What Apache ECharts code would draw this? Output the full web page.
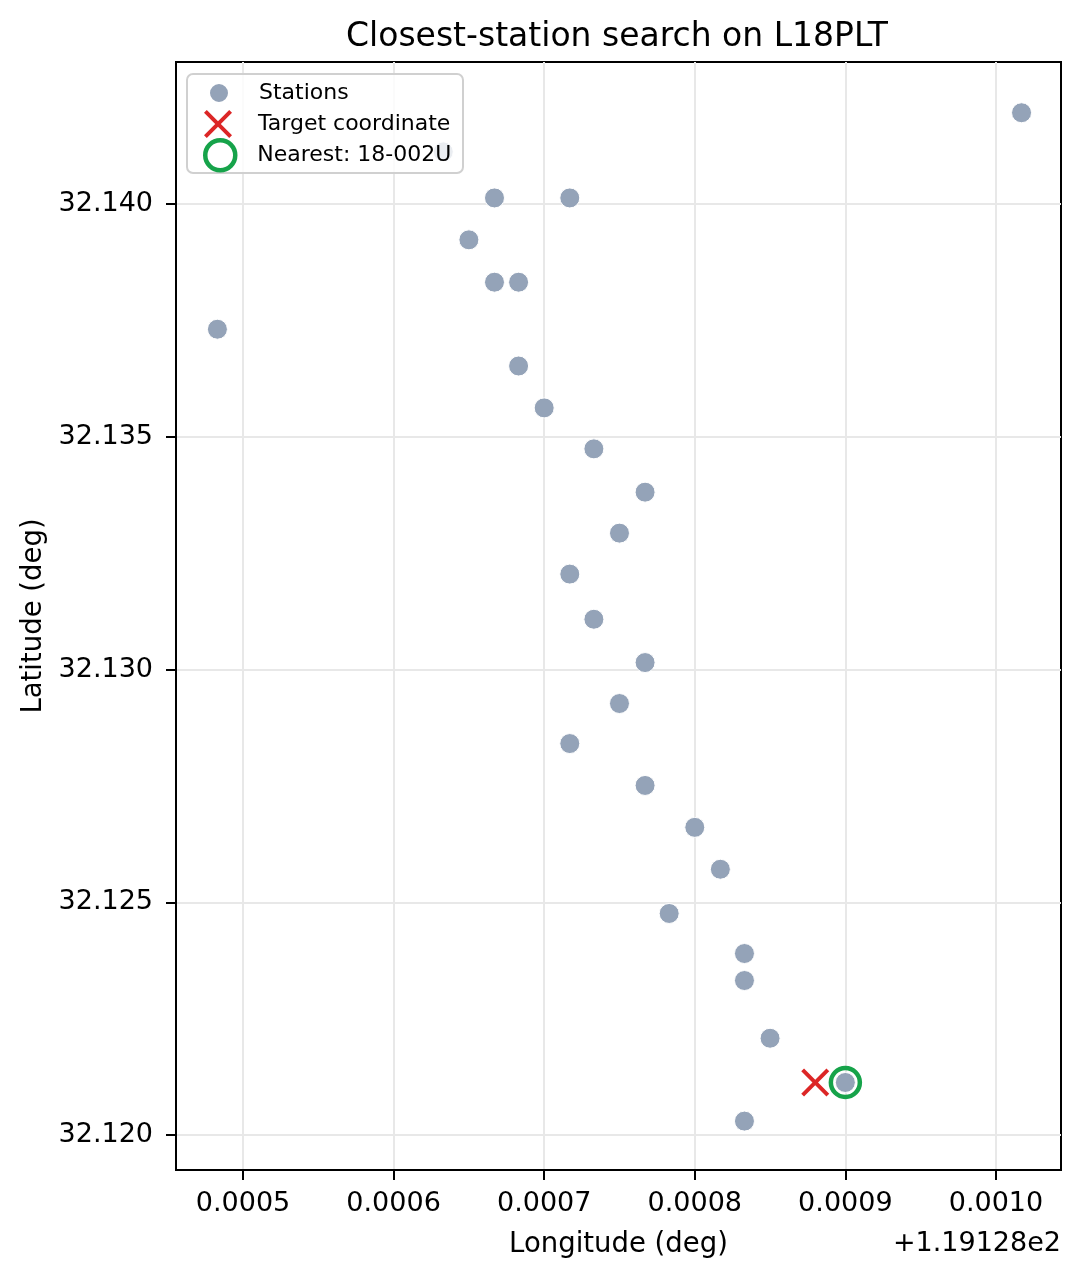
<!DOCTYPE html>
<html>
<head>
<meta charset="utf-8">
<script src="https://cdn.jsdelivr.net/npm/echarts@6/dist/echarts.min.js"></script>
<style>
html, body { margin: 0; padding: 0; background: #fff; }
#main { width: 1080px; height: 1278px; }
</style>
</head>
<body>
<div id="main"></div>
<script>
// longitudes are stored as offsets from 119.128 (the axis shows "+1.19128e2")
var stationLon = [0.001017, 0.000633, 0.000667, 0.000717, 0.000650, 0.000667, 0.000683,
    0.000483, 0.000683, 0.000700, 0.000733, 0.000767, 0.000750, 0.000717, 0.000733,
    0.000767, 0.000750, 0.000717, 0.000767, 0.000800, 0.000817, 0.000783, 0.000833,
    0.000833, 0.000850, 0.000900, 0.000833];
var stationLat = [32.14196, 32.14112, 32.14013, 32.14013, 32.13923, 32.13832, 32.13832,
    32.13731, 32.13652, 32.13562, 32.13474, 32.13381, 32.13293, 32.13205, 32.13108,
    32.13015, 32.12927, 32.12841, 32.12751, 32.12661, 32.12571, 32.12476, 32.12390,
    32.12332, 32.12208, 32.12113, 32.12030];
var targetLon = [0.000880];
var targetLat = [32.12113];
var nearestLon = [0.000900];
var nearestLat = [32.12113];
var nearestName = '18-002U';

var xTicks = [0.0005, 0.0006, 0.0007, 0.0008, 0.0009, 0.0010];
var yTicks = [32.120, 32.125, 32.130, 32.135, 32.140];
var xOffsetText = '+1.19128e2';

var FONT = 'DejaVu Sans';
var stationColor = '#94a3b8';
var targetColor = '#dc2626';
var nearestColor = '#16a34a';
// X marker drawn as a filled cross
var crossPath = 'path://M0,1L1,0L5,4L9,0L10,1L6,5L10,9L9,10L5,6L1,10L0,9L4,5Z';

function pairs(xs, ys) {
    return xs.map(function (x, i) { return [x, ys[i]]; });
}

var myChart = echarts.init(document.getElementById('main'));

var option = {
    backgroundColor: '#fff',
    animation: false,
    title: {
        text: 'Closest-station search on L18PLT',
        left: 346,
        top: 21,
        padding: 0,
        textStyle: { fontFamily: FONT, fontSize: 33, fontWeight: 'normal', color: '#000' }
    },
    grid: {
        left: 176,
        right: 19,
        top: 62,
        bottom: 108,
        show: true,
        borderColor: '#000',
        borderWidth: 2,
        backgroundColor: 'transparent'
    },
    xAxis: {
        type: 'value',
        min: 0.0004555,
        max: 0.0010432,
        name: 'Longitude (deg)',
        nameLocation: 'middle',
        nameGap: 61,
        nameTextStyle: { fontFamily: FONT, fontSize: 27.5, color: '#000' },
        axisLine: { show: true, onZero: false, lineStyle: { color: '#000', width: 2 } },
        axisTick: { show: true, length: 10, lineStyle: { color: '#000', width: 2 }, customValues: xTicks },
        axisLabel: {
            customValues: xTicks,
            margin: 20,
            fontFamily: FONT, fontSize: 27, color: '#000',
            formatter: function (v) { return v.toFixed(4); }
        },
        splitLine: { show: true, lineStyle: { color: '#e8e8e8', width: 2 } }
    },
    yAxis: {
        type: 'value',
        min: 32.11925,
        max: 32.14305,
        name: 'Latitude (deg)',
        nameLocation: 'middle',
        nameGap: 128,
        nameTextStyle: { fontFamily: FONT, fontSize: 27.5, color: '#000' },
        axisLine: { show: true, onZero: false, lineStyle: { color: '#000', width: 2 } },
        axisTick: { show: true, length: 10, lineStyle: { color: '#000', width: 2 }, customValues: yTicks },
        axisLabel: {
            customValues: yTicks,
            margin: 23,
            fontFamily: FONT, fontSize: 27, color: '#000',
            formatter: function (v) { return v.toFixed(3); }
        },
        splitLine: { show: true, lineStyle: { color: '#e8e8e8', width: 2 } }
    },
    legend: [
        {
            data: ['Stations'],
            left: 208, top: 82, padding: 0, z: 20,
            itemWidth: 20, itemHeight: 20,
            itemStyle: { opacity: 1 },
            textStyle: { fontFamily: FONT, fontSize: 22, color: '#000', padding: [0, 0, 0, 25] }
        },
        {
            data: [{ name: 'Target coordinate', icon: crossPath }],
            left: 204, top: 110, padding: 0, z: 20,
            itemWidth: 28, itemHeight: 28,
            itemStyle: { opacity: 1 },
            textStyle: { fontFamily: FONT, fontSize: 22, color: '#000', padding: [1, 0, 0, 21] }
        },
        {
            data: [{ name: 'Nearest: ' + nearestName, icon: 'circle' }],
            left: 203, top: 138, padding: 0, z: 20,
            itemWidth: 30, itemHeight: 30,
            itemStyle: { color: 'rgba(0,0,0,0)', borderColor: nearestColor, borderWidth: 4.5, opacity: 1 },
            textStyle: { fontFamily: FONT, fontSize: 22, color: '#000', padding: [1, 0, 0, 17] }
        }
    ],
    graphic: [
        {
            type: 'rect',
            z: 10,
            shape: { x: 187, y: 74, width: 276, height: 99, r: 6 },
            style: { fill: 'rgba(255,255,255,0.8)', stroke: '#d0d0d0', lineWidth: 2 }
        },
        {
            type: 'text',
            z: 10,
            right: 19,
            top: 1230,
            style: { text: xOffsetText, font: '27px "DejaVu Sans"', fill: '#000' }
        }
    ],
    series: [
        {
            name: 'Stations',
            type: 'scatter',
            z: 2,
            symbol: 'circle',
            symbolSize: 20,
            itemStyle: { color: stationColor, borderColor: '#fff', borderWidth: 1, opacity: 1 },
            data: pairs(stationLon, stationLat)
        },
        {
            name: 'Target coordinate',
            type: 'scatter',
            z: 3,
            symbol: crossPath,
            symbolSize: 28,
            itemStyle: { color: targetColor, opacity: 1 },
            data: pairs(targetLon, targetLat)
        },
        {
            name: 'Nearest: ' + nearestName,
            type: 'scatter',
            z: 4,
            symbol: 'circle',
            symbolSize: 29,
            itemStyle: { color: 'rgba(0,0,0,0)', borderColor: nearestColor, borderWidth: 4.5, opacity: 1 },
            data: pairs(nearestLon, nearestLat)
        }
    ]
};
myChart.setOption(option);
</script>
</body>
</html>
